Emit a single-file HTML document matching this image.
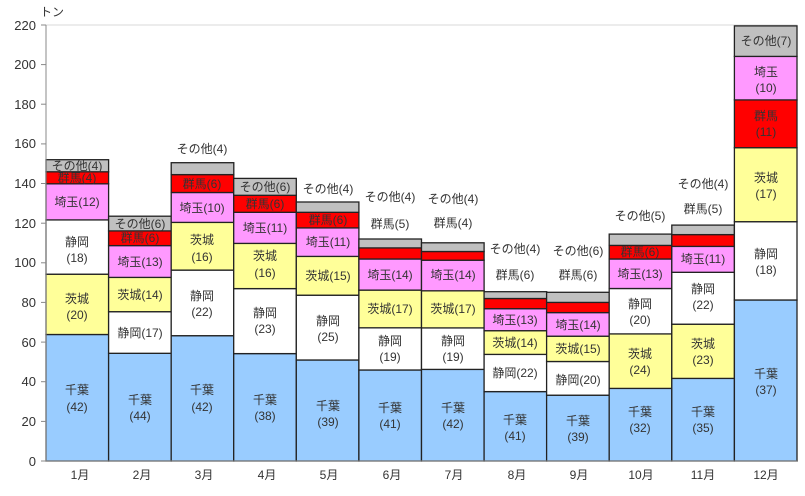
<!DOCTYPE html>
<html><head><meta charset="utf-8"><style>
html,body{margin:0;padding:0;background:#fff;}
svg text{font-family:"Liberation Sans","Noto Sans CJK JP",sans-serif;fill:#333;}
</style></head><body>
<svg width="805" height="491" viewBox="0 0 805 491" xmlns="http://www.w3.org/2000/svg">
<rect x="0" y="0" width="805" height="491" fill="#fff"/>
<rect x="46" y="25" width="751" height="436" fill="none" stroke="#d9d9d9" stroke-width="1"/>
<g stroke="#222" stroke-width="1.3">
<rect x="46" y="334.5" width="62.6" height="126.5" fill="#99ccff"/>
<rect x="46" y="274.2" width="62.6" height="60.3" fill="#ffff99"/>
<rect x="46" y="219.9" width="62.6" height="54.3" fill="#fff"/>
<rect x="46" y="183.8" width="62.6" height="36.1" fill="#ff99ff"/>
<rect x="46" y="171.8" width="62.6" height="12" fill="#ff0000"/>
<rect x="46" y="159.7" width="62.6" height="12.1" fill="#c0c0c0"/>
<rect x="108.6" y="353.3" width="62.6" height="107.7" fill="#99ccff"/>
<rect x="108.6" y="311.7" width="62.6" height="41.6" fill="#fff"/>
<rect x="108.6" y="277.4" width="62.6" height="34.3" fill="#ffff99"/>
<rect x="108.6" y="245.6" width="62.6" height="31.8" fill="#ff99ff"/>
<rect x="108.6" y="230.9" width="62.6" height="14.7" fill="#ff0000"/>
<rect x="108.6" y="216.2" width="62.6" height="14.7" fill="#c0c0c0"/>
<rect x="171.2" y="335.7" width="62.6" height="125.3" fill="#99ccff"/>
<rect x="171.2" y="270.1" width="62.6" height="65.6" fill="#fff"/>
<rect x="171.2" y="222.4" width="62.6" height="47.7" fill="#ffff99"/>
<rect x="171.2" y="192.5" width="62.6" height="29.9" fill="#ff99ff"/>
<rect x="171.2" y="174.6" width="62.6" height="17.9" fill="#ff0000"/>
<rect x="171.2" y="162.7" width="62.6" height="11.9" fill="#c0c0c0"/>
<rect x="233.7" y="353.6" width="62.6" height="107.4" fill="#99ccff"/>
<rect x="233.7" y="288.6" width="62.6" height="65" fill="#fff"/>
<rect x="233.7" y="243.4" width="62.6" height="45.2" fill="#ffff99"/>
<rect x="233.7" y="212.3" width="62.6" height="31.1" fill="#ff99ff"/>
<rect x="233.7" y="195.3" width="62.6" height="17" fill="#ff0000"/>
<rect x="233.7" y="178.4" width="62.6" height="16.9" fill="#c0c0c0"/>
<rect x="296.3" y="360" width="62.6" height="101" fill="#99ccff"/>
<rect x="296.3" y="295.2" width="62.6" height="64.8" fill="#fff"/>
<rect x="296.3" y="256.4" width="62.6" height="38.8" fill="#ffff99"/>
<rect x="296.3" y="227.9" width="62.6" height="28.5" fill="#ff99ff"/>
<rect x="296.3" y="212.3" width="62.6" height="15.6" fill="#ff0000"/>
<rect x="296.3" y="202" width="62.6" height="10.3" fill="#c0c0c0"/>
<rect x="358.9" y="370" width="62.6" height="91" fill="#99ccff"/>
<rect x="358.9" y="327.8" width="62.6" height="42.2" fill="#fff"/>
<rect x="358.9" y="290.1" width="62.6" height="37.7" fill="#ffff99"/>
<rect x="358.9" y="259" width="62.6" height="31.1" fill="#ff99ff"/>
<rect x="358.9" y="247.9" width="62.6" height="11.1" fill="#ff0000"/>
<rect x="358.9" y="239" width="62.6" height="8.9" fill="#c0c0c0"/>
<rect x="421.5" y="369.4" width="62.6" height="91.6" fill="#99ccff"/>
<rect x="421.5" y="327.9" width="62.6" height="41.5" fill="#fff"/>
<rect x="421.5" y="290.8" width="62.6" height="37.1" fill="#ffff99"/>
<rect x="421.5" y="260.2" width="62.6" height="30.6" fill="#ff99ff"/>
<rect x="421.5" y="251.5" width="62.6" height="8.7" fill="#ff0000"/>
<rect x="421.5" y="242.8" width="62.6" height="8.7" fill="#c0c0c0"/>
<rect x="484.1" y="391.6" width="62.6" height="69.4" fill="#99ccff"/>
<rect x="484.1" y="354.4" width="62.6" height="37.2" fill="#fff"/>
<rect x="484.1" y="330.7" width="62.6" height="23.7" fill="#ffff99"/>
<rect x="484.1" y="308.7" width="62.6" height="22" fill="#ff99ff"/>
<rect x="484.1" y="298.5" width="62.6" height="10.2" fill="#ff0000"/>
<rect x="484.1" y="291.7" width="62.6" height="6.8" fill="#c0c0c0"/>
<rect x="546.6" y="395.2" width="62.6" height="65.8" fill="#99ccff"/>
<rect x="546.6" y="361.5" width="62.6" height="33.7" fill="#fff"/>
<rect x="546.6" y="336.2" width="62.6" height="25.3" fill="#ffff99"/>
<rect x="546.6" y="312.6" width="62.6" height="23.6" fill="#ff99ff"/>
<rect x="546.6" y="302.4" width="62.6" height="10.2" fill="#ff0000"/>
<rect x="546.6" y="292.3" width="62.6" height="10.1" fill="#c0c0c0"/>
<rect x="609.2" y="388.4" width="62.6" height="72.6" fill="#99ccff"/>
<rect x="609.2" y="333.9" width="62.6" height="54.5" fill="#ffff99"/>
<rect x="609.2" y="288.5" width="62.6" height="45.4" fill="#fff"/>
<rect x="609.2" y="259" width="62.6" height="29.5" fill="#ff99ff"/>
<rect x="609.2" y="245.4" width="62.6" height="13.6" fill="#ff0000"/>
<rect x="609.2" y="234.1" width="62.6" height="11.3" fill="#c0c0c0"/>
<rect x="671.8" y="378.4" width="62.6" height="82.6" fill="#99ccff"/>
<rect x="671.8" y="324.2" width="62.6" height="54.2" fill="#ffff99"/>
<rect x="671.8" y="272.3" width="62.6" height="51.9" fill="#fff"/>
<rect x="671.8" y="246.4" width="62.6" height="25.9" fill="#ff99ff"/>
<rect x="671.8" y="234.6" width="62.6" height="11.8" fill="#ff0000"/>
<rect x="671.8" y="225.1" width="62.6" height="9.5" fill="#c0c0c0"/>
<rect x="734.4" y="300" width="62.6" height="161" fill="#99ccff"/>
<rect x="734.4" y="221.7" width="62.6" height="78.3" fill="#fff"/>
<rect x="734.4" y="147.7" width="62.6" height="74" fill="#ffff99"/>
<rect x="734.4" y="99.9" width="62.6" height="47.8" fill="#ff0000"/>
<rect x="734.4" y="56.4" width="62.6" height="43.5" fill="#ff99ff"/>
<rect x="734.4" y="25.9" width="62.6" height="30.5" fill="#c0c0c0"/>
</g>
<line x1="46" y1="25" x2="46" y2="461" stroke="#888" stroke-width="1"/>
<line x1="46" y1="461" x2="797" y2="461" stroke="#888" stroke-width="1"/>
<g stroke="#888" stroke-width="1">
<line x1="41" y1="461" x2="46" y2="461"/><line x1="41" y1="421.4" x2="46" y2="421.4"/>
<line x1="41" y1="381.7" x2="46" y2="381.7"/><line x1="41" y1="342.1" x2="46" y2="342.1"/>
<line x1="41" y1="302.4" x2="46" y2="302.4"/><line x1="41" y1="262.8" x2="46" y2="262.8"/>
<line x1="41" y1="223.2" x2="46" y2="223.2"/><line x1="41" y1="183.5" x2="46" y2="183.5"/>
<line x1="41" y1="143.9" x2="46" y2="143.9"/><line x1="41" y1="104.2" x2="46" y2="104.2"/>
<line x1="41" y1="64.6" x2="46" y2="64.6"/><line x1="41" y1="25" x2="46" y2="25"/>
</g>
<g font-size="13" text-anchor="end" style="fill:#000">
<text x="36" y="466">0</text><text x="36" y="426">20</text><text x="36" y="386">40</text>
<text x="36" y="347">60</text><text x="36" y="307">80</text><text x="36" y="267">100</text>
<text x="36" y="228">120</text><text x="36" y="188">140</text><text x="36" y="148">160</text>
<text x="36" y="109">180</text><text x="36" y="69">200</text><text x="36" y="30">220</text>
</g>
<text x="40" y="16" font-size="12">トン</text>
<g font-size="12" text-anchor="middle">
<text x="80" y="479">1月</text><text x="142" y="479">2月</text><text x="204" y="479">3月</text>
<text x="267" y="479">4月</text><text x="329" y="479">5月</text><text x="392" y="479">6月</text>
<text x="454" y="479">7月</text><text x="517" y="479">8月</text><text x="579" y="479">9月</text>
<text x="641" y="479">10月</text><text x="703" y="479">11月</text><text x="766" y="479">12月</text>
</g>
<g font-size="12" text-anchor="middle">
<text x="77" y="170">その他(4)</text><text x="77" y="182">群馬(4)</text><text x="77" y="206">埼玉(12)</text>
<text x="77" y="246">静岡</text><text x="77" y="262">(18)</text>
<text x="77" y="303">茨城</text><text x="77" y="319">(20)</text>
<text x="77" y="394">千葉</text><text x="77" y="411">(42)</text>
<text x="140" y="228">その他(6)</text><text x="140" y="242">群馬(6)</text><text x="140" y="266">埼玉(13)</text>
<text x="140" y="299">茨城(14)</text><text x="140" y="337">静岡(17)</text>
<text x="140" y="404">千葉</text><text x="140" y="420">(44)</text>
<text x="202" y="153">その他(4)</text><text x="202" y="188">群馬(6)</text><text x="202" y="212">埼玉(10)</text>
<text x="202" y="244">茨城</text><text x="202" y="261">(16)</text>
<text x="202" y="300">静岡</text><text x="202" y="316">(22)</text>
<text x="202" y="394">千葉</text><text x="202" y="411">(42)</text>
<text x="265" y="191">その他(6)</text><text x="265" y="208">群馬(6)</text><text x="265" y="232">埼玉(11)</text>
<text x="265" y="260">茨城</text><text x="265" y="277">(16)</text>
<text x="265" y="317">静岡</text><text x="265" y="333">(23)</text>
<text x="265" y="404">千葉</text><text x="265" y="420">(38)</text>
<text x="328" y="193">その他(4)</text><text x="328" y="224">群馬(6)</text><text x="328" y="246">埼玉(11)</text>
<text x="328" y="280">茨城(15)</text>
<text x="328" y="325">静岡</text><text x="328" y="341">(25)</text>
<text x="328" y="410">千葉</text><text x="328" y="426">(39)</text>
<text x="390" y="201">その他(4)</text><text x="390" y="228">群馬(5)</text><text x="390" y="279">埼玉(14)</text>
<text x="390" y="313">茨城(17)</text>
<text x="390" y="345">静岡</text><text x="390" y="361">(19)</text>
<text x="390" y="412">千葉</text><text x="390" y="428">(41)</text>
<text x="453" y="203">その他(4)</text><text x="453" y="227">群馬(4)</text><text x="453" y="279">埼玉(14)</text>
<text x="453" y="313">茨城(17)</text>
<text x="453" y="345">静岡</text><text x="453" y="361">(19)</text>
<text x="453" y="412">千葉</text><text x="453" y="428">(42)</text>
<text x="515" y="253">その他(4)</text><text x="515" y="279">群馬(6)</text><text x="515" y="324">埼玉(13)</text>
<text x="515" y="347">茨城(14)</text><text x="515" y="377">静岡(22)</text>
<text x="515" y="424">千葉</text><text x="515" y="440">(41)</text>
<text x="578" y="255">その他(6)</text><text x="578" y="279">群馬(6)</text><text x="578" y="329">埼玉(14)</text>
<text x="578" y="353">茨城(15)</text><text x="578" y="384">静岡(20)</text>
<text x="578" y="425">千葉</text><text x="578" y="441">(39)</text>
<text x="640" y="220">その他(5)</text><text x="640" y="256">群馬(6)</text><text x="640" y="278">埼玉(13)</text>
<text x="640" y="308">静岡</text><text x="640" y="324">(20)</text>
<text x="640" y="358">茨城</text><text x="640" y="374">(24)</text>
<text x="640" y="416">千葉</text><text x="640" y="432">(32)</text>
<text x="703" y="188">その他(4)</text><text x="703" y="213">群馬(5)</text><text x="703" y="263">埼玉(11)</text>
<text x="703" y="293">静岡</text><text x="703" y="309">(22)</text>
<text x="703" y="348">茨城</text><text x="703" y="364">(23)</text>
<text x="703" y="416">千葉</text><text x="703" y="432">(35)</text>
<text x="766" y="45">その他(7)</text>
<text x="766" y="76">埼玉</text><text x="766" y="92">(10)</text>
<text x="766" y="120">群馬</text><text x="766" y="136">(11)</text>
<text x="766" y="182">茨城</text><text x="766" y="198">(17)</text>
<text x="766" y="258">静岡</text><text x="766" y="274">(18)</text>
<text x="766" y="378">千葉</text><text x="766" y="394">(37)</text>
</g>
</svg>
</body></html>
